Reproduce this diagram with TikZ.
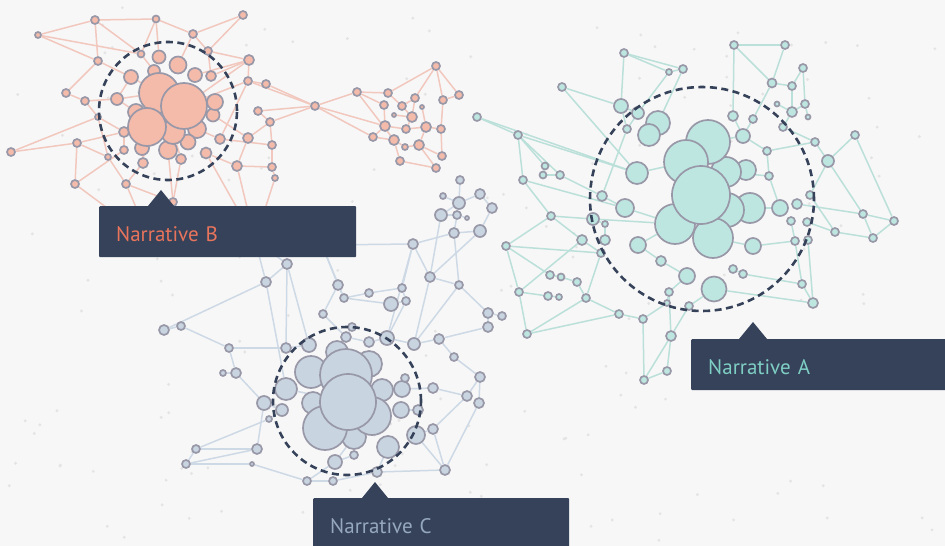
\documentclass[tikz,border=0pt]{standalone}
\usepackage{fontspec}
\setmainfont{PT Sans}
\usetikzlibrary{calc}
\definecolor{paper}{RGB}{247,247,247}
\definecolor{speck}{RGB}{228,228,228}
\definecolor{navy}{RGB}{54,66,90}
\definecolor{rim}{RGB}{152,152,168}
\definecolor{fillA}{RGB}{190,230,224}
\definecolor{fillB}{RGB}{244,186,170}
\definecolor{fillC}{RGB}{200,212,224}
\definecolor{lineA}{RGB}{186,224,217}
\definecolor{lineB}{RGB}{242,200,190}
\definecolor{lineC}{RGB}{206,217,230}
\definecolor{textA}{RGB}{126,206,196}
\definecolor{textB}{RGB}{232,116,92}
\definecolor{textC}{RGB}{150,168,190}
\pgfdeclarelayer{backdrop}
\pgfdeclarelayer{links}
\pgfsetlayers{backdrop,links,main}
\tikzset{
	nodeA/.style={circle, inner sep=0pt, draw=rim, line width=1.7pt, fill=fillA},
	nodeB/.style={circle, inner sep=0pt, draw=rim, line width=1.7pt, fill=fillB},
	nodeC/.style={circle, inner sep=0pt, draw=rim, line width=1.7pt, fill=fillC},
	linkA/.style={draw=lineA, line width=1.5pt},
	linkB/.style={draw=lineB, line width=1.5pt},
	linkC/.style={draw=lineC, line width=1.5pt},
	ring/.style={circle, inner sep=0pt, draw=navy, line width=2.6pt, dash pattern=on 7pt off 4.5pt},
	tag/.style={fill=navy, rounded corners=1pt, anchor=north west, minimum height=51pt, inner xsep=17pt, inner ysep=0pt, text height=19pt, text depth=0pt, align=left, font=\fontsize{21}{25}\selectfont}
}
\begin{document}
\begin{tikzpicture}[x=1pt, y=-1pt]
	\clip (0,0) rectangle (945,546);
	\begin{pgfonlayer}{backdrop}
		\fill[paper] (0,0) rectangle (945,546);
		\pgfmathsetseed{17}
		\foreach \i in {1,...,170} {\fill[speck] ({rnd*945},{rnd*546}) circle (1.6pt);}
	\end{pgfonlayer}

	\node (b01) at (95,20)[nodeB, minimum size=8pt]{};
	\node (b02) at (156,19)[nodeB, minimum size=7pt]{};
	\node (b03) at (243,15)[nodeB, minimum size=8pt]{};
	\node (b04) at (38,35)[nodeB, minimum size=6pt]{};
	\node (b05) at (193,34)[nodeB, minimum size=8pt]{};
	\node (b06) at (208,51)[nodeB, minimum size=8pt]{};
	\node (b07) at (141,54)[nodeB, minimum size=7pt]{};
	\node (b08) at (98,61)[nodeB, minimum size=8pt]{};
	\node (b09) at (249,60)[nodeB, minimum size=10pt]{};
	\node (b10) at (159,57)[nodeB, minimum size=13pt]{};
	\node (b11) at (178,65)[nodeB, minimum size=17pt]{};
	\node (b12) at (131,77)[nodeB, minimum size=14pt]{};
	\node (b13) at (154,71)[nodeB, minimum size=12pt]{};
	\node (b14) at (195,75)[nodeB, minimum size=14pt]{};
	\node (b15) at (211,76)[nodeB, minimum size=10pt]{};
	\node (b16) at (248,81)[nodeB, minimum size=8pt]{};
	\node (b17) at (266,84)[nodeB, minimum size=8pt]{};
	\node (b18) at (66,93)[nodeB, minimum size=8pt]{};
	\node (b19) at (85,101)[nodeB, minimum size=8pt]{};
	\node (b20) at (117,99)[nodeB, minimum size=12pt]{};
	\node (b21) at (213,115)[nodeB, minimum size=13pt]{};
	\node (b22) at (215,102)[nodeB, minimum size=16pt]{};
	\node (b23) at (136,112)[nodeB, minimum size=16pt]{};
	\node (b24) at (197,129)[nodeB, minimum size=18pt]{};
	\node (b25) at (188,142)[nodeB, minimum size=15pt]{};
	\node (b26) at (168,150)[nodeB, minimum size=18pt]{};
	\node (b27) at (142,148)[nodeB, minimum size=14pt]{};
	\node (b28) at (173,132)[nodeB, minimum size=24pt]{};
	\node (b29) at (124,132)[nodeB, minimum size=10pt]{};
	\node (b30) at (124,150)[nodeB, minimum size=8pt]{};
	\node (b31) at (98,117)[nodeB, minimum size=6pt]{};
	\node (b32) at (258,111)[nodeB, minimum size=8pt]{};
	\node (b33) at (270,122)[nodeB, minimum size=8pt]{};
	\node (b34) at (248,138)[nodeB, minimum size=10pt]{};
	\node (b35) at (220,139)[nodeB, minimum size=10pt]{};
	\node (b36) at (206,153)[nodeB, minimum size=11pt]{};
	\node (b37) at (181,159)[nodeB, minimum size=10pt]{};
	\node (b38) at (143,163)[nodeB, minimum size=10pt]{};
	\node (b39) at (11,152)[nodeB, minimum size=8pt]{};
	\node (b40) at (77,143)[nodeB, minimum size=8pt]{};
	\node (b41) at (108,157)[nodeB, minimum size=6pt]{};
	\node (b42) at (75,184)[nodeB, minimum size=8pt]{};
	\node (b43) at (126,184)[nodeB, minimum size=8pt]{};
	\node (b44) at (173,202)[nodeB, minimum size=8pt]{};
	\node (b45) at (237,166)[nodeB, minimum size=10pt]{};
	\node (b46) at (272,145)[nodeB, minimum size=8pt]{};
	\node (b47) at (272,167)[nodeB, minimum size=8pt]{};
	\node (b48) at (275,178)[nodeB, minimum size=6pt]{};
	\node (b49) at (159,93)[nodeB, minimum size=40pt]{};
	\node (b51) at (184,106)[nodeB, minimum size=46pt]{};
	\node (b50) at (147,127)[nodeB, minimum size=38pt]{};
	\node (b52) at (315,106)[nodeB, minimum size=8pt]{};
	\node (b53) at (357,92)[nodeB, minimum size=8pt]{};
	\node (b54) at (388,93)[nodeB, minimum size=8pt]{};
	\node (b55) at (436,66)[nodeB, minimum size=8pt]{};
	\node (b56) at (459,95)[nodeB, minimum size=8pt]{};
	\node (b57) at (443,100)[nodeB, minimum size=8pt]{};
	\node (b58) at (415,98)[nodeB, minimum size=8pt]{};
	\node (b59) at (384,105)[nodeB, minimum size=8pt]{};
	\node (b60) at (402,106)[nodeB, minimum size=8pt]{};
	\node (b61) at (422,107)[nodeB, minimum size=4pt]{};
	\node (b62) at (394,115)[nodeB, minimum size=4pt]{};
	\node (b63) at (412,117)[nodeB, minimum size=10pt]{};
	\node (b64) at (385,126)[nodeB, minimum size=10pt]{};
	\node (b65) at (406,129)[nodeB, minimum size=8pt]{};
	\node (b66) at (426,127)[nodeB, minimum size=10pt]{};
	\node (b67) at (441,129)[nodeB, minimum size=8pt]{};
	\node (b68) at (373,137)[nodeB, minimum size=8pt]{};
	\node (b69) at (394,140)[nodeB, minimum size=10pt]{};
	\node (b70) at (419,145)[nodeB, minimum size=10pt]{};
	\node (b71) at (405,147)[nodeB, minimum size=6pt]{};
	\node (b72) at (442,156)[nodeB, minimum size=8pt]{};
	\node (b73) at (400,161)[nodeB, minimum size=8pt]{};
	\node (b74) at (436,168)[nodeB, minimum size=8pt]{};

	\node (a01) at (624,53)[nodeA, minimum size=8pt]{};
	\node (a02) at (734,45)[nodeA, minimum size=8pt]{};
	\node (a03) at (785,45)[nodeA, minimum size=8pt]{};
	\node (a04) at (669,72)[nodeA, minimum size=6pt]{};
	\node (a05) at (683,69)[nodeA, minimum size=8pt]{};
	\node (a06) at (803,68)[nodeA, minimum size=8pt]{};
	\node (a07) at (772,83)[nodeA, minimum size=9pt]{};
	\node (a08) at (792,86)[nodeA, minimum size=8pt]{};
	\node (a09) at (562,87)[nodeA, minimum size=8pt]{};
	\node (a10) at (621,106)[nodeA, minimum size=14pt]{};
	\node (a11) at (638,113)[nodeA, minimum size=12pt]{};
	\node (a12) at (627,129)[nodeA, minimum size=8pt]{};
	\node (a13) at (733,116)[nodeA, minimum size=10pt]{};
	\node (a14) at (753,119)[nodeA, minimum size=8pt]{};
	\node (a15) at (777,104)[nodeA, minimum size=5pt]{};
	\node (a16) at (805,104)[nodeA, minimum size=8pt]{};
	\node (a17) at (808,117)[nodeA, minimum size=5pt]{};
	\node (a18) at (792,112)[nodeA, minimum size=10pt]{};
	\node (a19) at (783,127)[nodeA, minimum size=8pt]{};
	\node (a20) at (477,117)[nodeA, minimum size=8pt]{};
	\node (a21) at (518,135)[nodeA, minimum size=8pt]{};
	\node (a22) at (743,136)[nodeA, minimum size=14pt]{};
	\node (a23) at (767,151)[nodeA, minimum size=8pt]{};
	\node (a24) at (815,142)[nodeA, minimum size=8pt]{};
	\node (a25) at (855,135)[nodeA, minimum size=8pt]{};
	\node (a26) at (828,161)[nodeA, minimum size=12pt]{};
	\node (a27) at (545,166)[nodeA, minimum size=7pt]{};
	\node (a28) at (543,175)[nodeA, minimum size=7pt]{};
	\node (a29) at (560,175)[nodeA, minimum size=8pt]{};
	\node (a30) at (523,180)[nodeA, minimum size=8pt]{};
	\node (a31) at (637,173)[nodeA, minimum size=22pt]{};
	\node (a32) at (769,176)[nodeA, minimum size=8pt]{};
	\node (a33) at (602,196)[nodeA, minimum size=10pt]{};
	\node (a34) at (625,208)[nodeA, minimum size=18pt]{};
	\node (a35) at (780,208)[nodeA, minimum size=16pt]{};
	\node (a36) at (797,204)[nodeA, minimum size=10pt]{};
	\node (a37) at (810,195)[nodeA, minimum size=8pt]{};
	\node (a38) at (551,216)[nodeA, minimum size=8pt]{};
	\node (a39) at (593,219)[nodeA, minimum size=12pt]{};
	\node (a40) at (863,214)[nodeA, minimum size=8pt]{};
	\node (a41) at (894,221)[nodeA, minimum size=8pt]{};
	\node (a42) at (791,221)[nodeA, minimum size=8pt]{};
	\node (a43) at (807,222)[nodeA, minimum size=8pt]{};
	\node (a44) at (605,224)[nodeA, minimum size=6pt]{};
	\node (a45) at (506,246)[nodeA, minimum size=8pt]{};
	\node (a46) at (582,240)[nodeA, minimum size=10pt]{};
	\node (a47) at (605,240)[nodeA, minimum size=10pt]{};
	\node (a48) at (638,245)[nodeA, minimum size=16pt]{};
	\node (a49) at (753,246)[nodeA, minimum size=16pt]{};
	\node (a50) at (795,241)[nodeA, minimum size=8pt]{};
	\node (a51) at (808,240)[nodeA, minimum size=8pt]{};
	\node (a52) at (835,232)[nodeA, minimum size=8pt]{};
	\node (a53) at (873,238)[nodeA, minimum size=8pt]{};
	\node (a54) at (601,253)[nodeA, minimum size=8pt]{};
	\node (a55) at (661,261)[nodeA, minimum size=10pt]{};
	\node (a56) at (550,275)[nodeA, minimum size=8pt]{};
	\node (a57) at (561,277)[nodeA, minimum size=7pt]{};
	\node (a58) at (577,282)[nodeA, minimum size=8pt]{};
	\node (a59) at (519,292)[nodeA, minimum size=8pt]{};
	\node (a60) at (548,296)[nodeA, minimum size=8pt]{};
	\node (a61) at (559,297)[nodeA, minimum size=6pt]{};
	\node (a62) at (586,298)[nodeA, minimum size=8pt]{};
	\node (a63) at (687,276)[nodeA, minimum size=16pt]{};
	\node (a64) at (714,289)[nodeA, minimum size=25pt]{};
	\node (a65) at (733,269)[nodeA, minimum size=8pt]{};
	\node (a66) at (743,274)[nodeA, minimum size=8pt]{};
	\node (a67) at (669,292)[nodeA, minimum size=8pt]{};
	\node (a68) at (802,284)[nodeA, minimum size=8pt]{};
	\node (a69) at (813,303)[nodeA, minimum size=10pt]{};
	\node (a70) at (619,314)[nodeA, minimum size=8pt]{};
	\node (a71) at (643,319)[nodeA, minimum size=8pt]{};
	\node (a72) at (689,306)[nodeA, minimum size=8pt]{};
	\node (a73) at (667,303)[nodeA, minimum size=6pt]{};
	\node (a74) at (527,334)[nodeA, minimum size=8pt]{};
	\node (a75) at (671,336)[nodeA, minimum size=10pt]{};
	\node (a76) at (667,371)[nodeA, minimum size=8pt]{};
	\node (a77) at (644,380)[nodeA, minimum size=8pt]{};
	\node (a78) at (658,123)[nodeA, minimum size=24pt]{};
	\node (a79) at (649,135)[nodeA, minimum size=22pt]{};
	\node (a81) at (746,170)[nodeA, minimum size=20pt]{};
	\node (a80) at (726,172)[nodeA, minimum size=30pt]{};
	\node (a82) at (750,208)[nodeA, minimum size=30pt]{};
	\node (a83) at (727,210)[nodeA, minimum size=34pt]{};
	\node (a85) at (713,238)[nodeA, minimum size=40pt]{};
	\node (a84) at (675,224)[nodeA, minimum size=40pt]{};
	\node (a87) at (708,142)[nodeA, minimum size=44pt]{};
	\node (a86) at (686,162)[nodeA, minimum size=44pt]{};
	\node (a88) at (701,195)[nodeA, minimum size=58pt]{};

	\node (c01) at (460,180)[nodeC, minimum size=8pt]{};
	\node (c02) at (443,196)[nodeC, minimum size=6pt]{};
	\node (c03) at (459,203)[nodeC, minimum size=12pt]{};
	\node (c04) at (480,194)[nodeC, minimum size=10pt]{};
	\node (c05) at (492,208)[nodeC, minimum size=10pt]{};
	\node (c06) at (441,215)[nodeC, minimum size=12pt]{};
	\node (c07) at (457,215)[nodeC, minimum size=8pt]{};
	\node (c08) at (467,218)[nodeC, minimum size=4pt]{};
	\node (c09) at (454,233)[nodeC, minimum size=10pt]{};
	\node (c10) at (480,231)[nodeC, minimum size=12pt]{};
	\node (c11) at (413,244)[nodeC, minimum size=10pt]{};
	\node (c12) at (287,264)[nodeC, minimum size=10pt]{};
	\node (c13) at (266,282)[nodeC, minimum size=10pt]{};
	\node (c14) at (338,285)[nodeC, minimum size=10pt]{};
	\node (c15) at (344,298)[nodeC, minimum size=8pt]{};
	\node (c16) at (369,293)[nodeC, minimum size=8pt]{};
	\node (c17) at (402,288)[nodeC, minimum size=8pt]{};
	\node (c18) at (406,301)[nodeC, minimum size=8pt]{};
	\node (c19) at (391,304)[nodeC, minimum size=14pt]{};
	\node (c20) at (430,277)[nodeC, minimum size=10pt]{};
	\node (c21) at (459,285)[nodeC, minimum size=8pt]{};
	\node (c22) at (323,314)[nodeC, minimum size=8pt]{};
	\node (c23) at (164,330)[nodeC, minimum size=10pt]{};
	\node (c24) at (181,326)[nodeC, minimum size=8pt]{};
	\node (c25) at (488,313)[nodeC, minimum size=10pt]{};
	\node (c26) at (502,316)[nodeC, minimum size=8pt]{};
	\node (c27) at (488,327)[nodeC, minimum size=10pt]{};
	\node (c28) at (352,327)[nodeC, minimum size=8pt]{};
	\node (c29) at (346,337)[nodeC, minimum size=10pt]{};
	\node (c30) at (369,342)[nodeC, minimum size=10pt]{};
	\node (c31) at (387,338)[nodeC, minimum size=14pt]{};
	\node (c32) at (414,344)[nodeC, minimum size=12pt]{};
	\node (c33) at (439,339)[nodeC, minimum size=10pt]{};
	\node (c34) at (309,345)[nodeC, minimum size=14pt]{};
	\node (c35) at (286,348)[nodeC, minimum size=10pt]{};
	\node (c36) at (229,348)[nodeC, minimum size=8pt]{};
	\node (c37) at (454,357)[nodeC, minimum size=8pt]{};
	\node (c38) at (337,352)[nodeC, minimum size=22pt]{};
	\node (c39) at (223,373)[nodeC, minimum size=6pt]{};
	\node (c40) at (236,373)[nodeC, minimum size=10pt]{};
	\node (c41) at (264,403)[nodeC, minimum size=14pt]{};
	\node (c42) at (282,410)[nodeC, minimum size=12pt]{};
	\node (c43) at (269,419)[nodeC, minimum size=6pt]{};
	\node (c44) at (286,389)[nodeC, minimum size=22pt]{};
	\node (c45) at (382,390)[nodeC, minimum size=22pt]{};
	\node (c46) at (402,389)[nodeC, minimum size=16pt]{};
	\node (c47) at (405,378)[nodeC, minimum size=8pt]{};
	\node (c48) at (480,377)[nodeC, minimum size=10pt]{};
	\node (c49) at (433,388)[nodeC, minimum size=10pt]{};
	\node (c50) at (401,410)[nodeC, minimum size=16pt]{};
	\node (c51) at (418,410)[nodeC, minimum size=10pt]{};
	\node (c52) at (467,396)[nodeC, minimum size=10pt]{};
	\node (c53) at (479,403)[nodeC, minimum size=10pt]{};
	\node (c54) at (388,447)[nodeC, minimum size=22pt]{};
	\node (c55) at (416,435)[nodeC, minimum size=18pt]{};
	\node (c56) at (433,429)[nodeC, minimum size=10pt]{};
	\node (c57) at (335,462)[nodeC, minimum size=14pt]{};
	\node (c58) at (354,455)[nodeC, minimum size=8pt]{};
	\node (c59) at (307,481)[nodeC, minimum size=8pt]{};
	\node (c60) at (333,481)[nodeC, minimum size=8pt]{};
	\node (c61) at (377,472)[nodeC, minimum size=10pt]{};
	\node (c62) at (445,470)[nodeC, minimum size=10pt]{};
	\node (c63) at (196,449)[nodeC, minimum size=8pt]{};
	\node (c64) at (186,464)[nodeC, minimum size=8pt]{};
	\node (c65) at (257,449)[nodeC, minimum size=10pt]{};
	\node (c66) at (252,464)[nodeC, minimum size=4pt]{};
	\node (c67) at (369,364)[nodeC, minimum size=26pt]{};
	\node (c68) at (311,372)[nodeC, minimum size=32pt]{};
	\node (c69) at (313,403)[nodeC, minimum size=22pt]{};
	\node (c71) at (354,437)[nodeC, minimum size=24pt]{};
	\node (c70) at (372,416)[nodeC, minimum size=38pt]{};
	\node (c72) at (325,428)[nodeC, minimum size=44pt]{};
	\node (c73) at (346,375)[nodeC, minimum size=52pt]{};
	\node (c74) at (348,402)[nodeC, minimum size=56pt]{};

	\coordinate (hid01) at (150,240);
	\coordinate (hid02) at (255,240);
	\coordinate (hid03) at (322,245);

	\begin{pgfonlayer}{links}
		\foreach \u/\v in {b04/b01, b04/b07, b04/b08, b01/b02, b01/b08, b01/b07, b02/b07, b02/b05, b02/b10, b03/b05, b03/b06, b05/b06, b05/b11, b06/b15, b09/b16, b09/b06, b09/b15, b08/b18, b08/b12, b18/b19, b19/b20, b19/b31, b39/b40, b39/b31, b40/b42, b40/b29, b40/b41, b41/b43, b41/b31, b43/b38, b43/b44, b44/b37, b31/b29, b16/b17, b17/b52, b16/b52, b32/b52, b33/b52, b32/b33, b33/b46, b46/b47, b47/b48, b45/b47, b45/b34, b34/b33, b34/b21, b35/b46, b36/b45, b16/b35, b09/b14, b12/b20, b20/b23, b38/b27, b37/b26, b42/b30, b30/b29, b07/b13, b49/b12, b49/b20, b51/b22, b51/b09, b50/b29, b50/b23, b28/b37, b24/b35, b51/b16, b50/b38, b44/b26, b52/b53, b52/b64, b52/b68, b53/b54, b53/b59, b53/b69, b54/b55, b54/b60, b55/b56, b55/b57, b55/b58, b56/b57, b57/b67, b58/b63, b59/b64, b60/b63, b61/b66, b62/b63, b63/b65, b64/b68, b64/b65, b65/b66, b66/b67, b67/b72, b69/b73, b69/b71, b70/b71, b70/b72, b70/b74, b73/b74, b68/b69, b66/b70, b60/b58, b43/hid01, b42/hid01, b44/hid01, b45/hid02, b48/hid02, b36/hid02}
			\draw[linkB] (\u) -- (\v);
		\foreach \u/\v in {a01/a05, a01/a04, a01/a10, a04/a05, a04/a11, a05/a78, a02/a03, a02/a07, a02/a13, a03/a07, a06/a08, a06/a16, a07/a08, a07/a14, a08/a18, a09/a10, a09/a31, a10/a11, a10/a12, a15/a18, a16/a17, a16/a18, a18/a19, a19/a24, a20/a21, a20/a31, a21/a30, a21/a27, a21/a31, a27/a28, a28/a29, a29/a33, a30/a38, a38/a45, a38/a46, a38/a39, a39/a44, a44/a47, a45/a56, a46/a54, a46/a59, a54/a62, a56/a57, a57/a58, a58/a62, a59/a60, a60/a61, a59/a74, a74/a62, a62/a70, a70/a71, a71/a73, a73/a67, a67/a75, a75/a76, a76/a77, a77/a71, a24/a26, a25/a26, a25/a41, a26/a40, a40/a41, a40/a53, a41/a53, a37/a52, a36/a40, a43/a52, a52/a53, a24/a23, a23/a32, a32/a35, a42/a50, a50/a68, a68/a69, a66/a68, a65/a66, a64/a69, a64/a72, a63/a67, a72/a75, a55/a63, a48/a55, a12/a33, a13/a22, a14/a22, a22/a23, a11/a12, a21/a29, a45/a59, a31/a86, a34/a84, a33/a34, a39/a84, a48/a84, a49/a85, a35/a82, a22/a87, a80/a32, a49/a50, a45/a54, a30/a34, a51/a69, a74/a70, a77/a75, a26/a37}
			\draw[linkA] (\u) -- (\v);
		\foreach \u/\v in {c01/c03, c02/c03, c03/c04, c03/c06, c04/c05, c05/c10, c06/c07, c07/c08, c06/c20, c09/c10, c09/c07, c09/c21, c11/c20, c11/c17, c12/c13, c12/c35, c13/c23, c24/c23, c24/c36, c14/c15, c14/c22, c15/c16, c16/c17, c17/c18, c19/c18, c19/c15, c20/c21, c21/c32, c21/c25, c25/c26, c25/c27, c27/c33, c33/c37, c37/c48, c48/c52, c48/c53, c52/c56, c53/c62, c62/c56, c62/c61, c61/c54, c55/c56, c59/c60, c60/c61, c57/c58, c63/c64, c63/c65, c64/c65, c64/c66, c65/c41, c66/c59, c36/c35, c36/c40, c39/c40, c40/c41, c41/c42, c43/c42, c34/c35, c22/c29, c28/c29, c29/c30, c30/c31, c31/c32, c32/c33, c47/c46, c49/c46, c51/c50, c45/c46, c18/c31, c32/c20, c11/c31, c12/c34, c13/c44, c63/c43, c59/c57, c62/c55, c49/c52, c11/c09, c20/c10, c73/c38, c74/c44, c70/c45, c71/c57, c12/hid02, c13/hid02, c14/hid03, c15/hid03, c11/hid03}
			\draw[linkC] (\u) -- (\v);
	\end{pgfonlayer}

	\node (ringB) at (168,111)[ring, minimum size=138pt]{};
	\node (ringA) at (702,199)[ring, minimum size=224pt]{};
	\node (ringC) at (347,401)[ring, minimum size=148pt]{};

	\node (labB) at (99,206)[tag, text width=223pt, text=textB]{Narrative B};
	\fill[navy] ($(labB.north west)+(49,0)$) -- ++(13,-16) -- ++(13,16) -- cycle;
	\node (labA) at (691,339)[tag, text width=240pt, text=textA]{Narrative A};
	\fill[navy] ($(labA.north west)+(48,0)$) -- ++(14,-17) -- ++(14,17) -- cycle;
	\node (labC) at (313,498)[tag, text width=222pt, text=textC]{Narrative C};
	\fill[navy] ($(labC.north west)+(49,0)$) -- ++(13,-16) -- ++(13,16) -- cycle;
\end{tikzpicture}
\end{document}
